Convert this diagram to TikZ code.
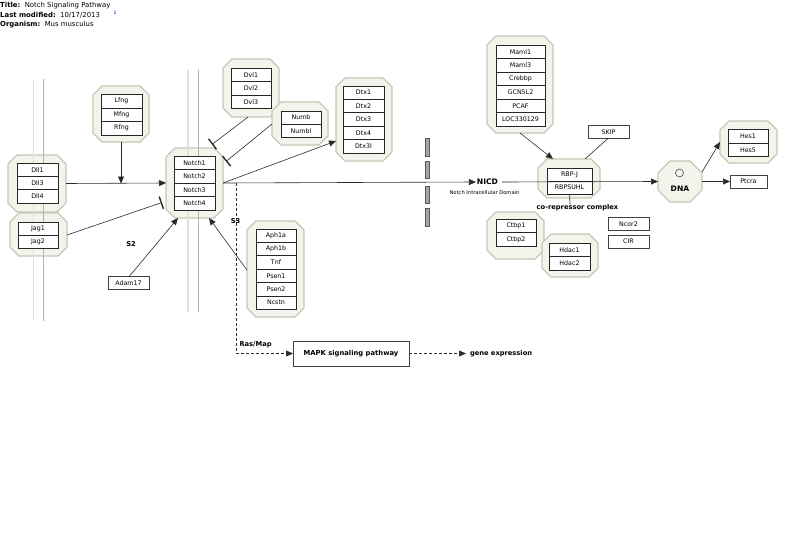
\documentclass[tikz,border=0pt]{standalone}
\usepackage{fontspec}
\setmainfont{DejaVu Sans}
\usetikzlibrary{arrows.meta,calc}
\definecolor{octfill}{HTML}{F4F4EC}
\definecolor{octline}{HTML}{C6C6B6}
\definecolor{lnk}{HTML}{2A2A2A}
\tikzset{
  grpnode/.style={rectangle, inner sep=0, outer sep=0},
  grpstyle/.style={fill=octfill, draw=octline, line width=1.2pt},
  gene/.style={rectangle, draw=black!85, fill=white, line width=0.7pt, inner sep=0, outer sep=0, minimum height=13.5pt},
  solo/.style={rectangle, draw=black!75, fill=white, line width=0.7pt, inner sep=0, outer sep=0},
  lbl/.style={inner sep=0, outer sep=0, font=\fontsize{6.7}{7}\selectfont\bfseries},
  arr/.style={draw=lnk, line width=0.6pt, -{Triangle[length=7pt,width=6pt]}},
  inh/.style={draw=lnk, line width=0.6pt, -{Bar[width=13pt,line width=1.4pt]}},
  plain/.style={draw=lnk, line width=0.6pt},
  dsh/.style={draw=lnk, line width=0.6pt, dashed, dash pattern=on 3pt off 2pt},
  memA/.style={draw=black!12, line width=1.8pt},
  memB/.style={draw=black!30, line width=0.9pt},
}
% group octagon: name, x1, y1, x2, y2, cut
\newcommand\octgrp[6]{%
  \node[grpnode, minimum width={#4-#2}, minimum height={#5-#3}] (#1) at ({(#2+#4)/2},{(#3+#5)/2}) {};
  \filldraw[grpstyle] ([xshift=#6]#1.north west) -- ([xshift=-#6]#1.north east) -- ([yshift=-#6]#1.north east)
    -- ([yshift=#6]#1.south east) -- ([xshift=-#6]#1.south east) -- ([xshift=#6]#1.south west)
    -- ([yshift=#6]#1.south west) -- ([yshift=-#6]#1.north west) -- cycle;}
% rows: x1, x2, ytop, row height, list
\newcommand\generows[5]{%
  \foreach \t [count=\i] in {#5}
    \node[gene, minimum width={#2-#1}, minimum height={#4}] (\t) at ({(#1+#2)/2},{#3+#4*(\i-0.5)}) {\t};}
\begin{document}
\begin{tikzpicture}[x=1pt,y=-1pt,font=\fontsize{6.3}{7}\selectfont]
\useasboundingbox (0,0) rectangle (800,546);

% header
\node[anchor=west, inner sep=0, font=\fontsize{6.9}{7}\selectfont] (t1) at (0,6) {\textbf{Title:}\ \ Notch Signaling Pathway};
\node[anchor=west, inner sep=0, font=\fontsize{6.9}{7}\selectfont] (t2) at (0,15.5) {\textbf{Last modified:}\ \ 10/17/2013};
\node[anchor=west, inner sep=0, font=\fontsize{6.9}{7}\selectfont] (t3) at (0,25) {\textbf{Organism:}\ \ Mus musculus};
\node[inner sep=0, text=blue!70!black, font=\fontsize{4.5}{5}\selectfont] (sup) at (115,13) {1};

% octagon groups
\octgrp{dll}{8}{155}{66}{212}{9}
\octgrp{jag}{10}{213}{67}{256}{9}
\octgrp{lfg}{93}{86}{149}{142}{9}
\octgrp{notch}{166}{148}{223}{218}{9}
\octgrp{dvl}{223}{59}{279}{117}{9}
\octgrp{numb}{272}{102}{328}{145}{9}
\octgrp{dtx}{336}{78}{392}{161}{9}
\octgrp{pse}{247}{221}{304}{317}{9}
\octgrp{maml}{487}{36}{553}{133}{9}
\octgrp{rbp}{538}{159}{600}{198}{9}
\octgrp{ctbp}{487}{212}{544}{259}{9}
\octgrp{hdac}{542}{234}{598}{277}{9}
\octgrp{hes}{720}{121}{777}{163}{9}
\octgrp{dna}{658}{161}{702}{202}{12}

% membranes
\draw[memA] (33.5,79) -- (33.5,321);
\draw[memB] (43,79) -- (43,321);
\draw[memA] (188,70) -- (188,312);
\draw[memB] (198,70) -- (198,312);

% gene rows
\generows{17}{58}{163}{13.4}{Dll1,Dll3,Dll4}
\generows{18}{58}{222}{13}{Jag1,Jag2}
\generows{101}{142}{94.5}{13.5}{Lfng,Mfng,Rfng}
\generows{174}{215}{156}{13.5}{Notch1,Notch2,Notch3,Notch4}
\generows{231}{271}{68}{13.6}{Dvl1,Dvl2,Dvl3}
\generows{281}{321}{111}{13.2}{Numb,Numbl}
\generows{343}{384}{86}{13.4}{Dtx1,Dtx2,Dtx3,Dtx4,Dtx3l}
\generows{256}{296}{229}{13.4}{Aph1a,Aph1b,Tnf,Psen1,Psen2,Ncstn}
\generows{496}{545}{45}{13.5}{Maml1,Maml3,Crebbp,GCN5L2,PCAF,LOC330129}
\generows{547}{592}{168}{13}{RBP-J,RBPSUHL}
\generows{496}{536}{219.5}{13.3}{Ctbp1,Ctbp2}
\generows{549}{590}{243}{13.5}{Hdac1,Hdac2}
\generows{728}{768}{129.5}{13.5}{Hes1,Hes5}

% DNA content
\node[circle, draw=black!70, line width=0.6pt, minimum size=8pt, inner sep=0] (dnac) at (679.5,173) {};
\node[lbl, font=\fontsize{7.6}{8}\selectfont\bfseries] (dnat) at (680,189) {DNA};

% single boxes
\node[solo, minimum width=41pt, minimum height=12.5pt] (adam) at (128.5,283) {Adam17};
\node[solo, minimum width=41pt, minimum height=12.5pt] (skip) at (608.5,131.8) {SKIP};
\node[solo, minimum width=41pt, minimum height=13.5pt] (ncor) at (628.5,224) {Ncor2};
\node[solo, minimum width=41pt, minimum height=13pt] (cir) at (628.5,241.5) {CIR};
\node[solo, minimum width=37pt, minimum height=13pt] (ptcra) at (748.5,181.5) {Ptcra};
\node[solo, minimum width=116pt, minimum height=25pt, font=\fontsize{6.8}{7}\selectfont\bfseries] (mapk) at (351,353.5) {MAPK signaling pathway};

% gray bars
\foreach \ya/\yb [count=\k] in {138/156,161/178,186/203,208/226}
  \filldraw[fill=black!35, draw=black!65, line width=0.5pt] (425,\ya) rectangle (429.5,\yb);

% labels
\node[lbl] (s2) at (131,244) {S2};
\node[lbl] (s3) at (235.5,221.5) {S3};
\node[lbl, font=\fontsize{7.6}{8}\selectfont\bfseries] (nicd) at (487.5,182) {NICD};
\node[inner sep=0, font=\fontsize{5.2}{6}\selectfont] (nicdt) at (484.5,193) {Notch Intracellular Domain};
\node[lbl] (corep) at (577.5,207.8) {co-repressor complex};
\node[lbl, anchor=west] (ras) at (239.5,345) {Ras/Map};
\node[lbl, anchor=west] (gexp) at (470,353.5) {gene expression};

% helper coordinates
\coordinate (jl) at (121,183.5);
\coordinate (d0) at (236,183);

% connectors
\draw[arr] (dll.east) -- (notch.west);
\draw[arr] (lfg.south) -- (jl);
\draw[inh] (jag.east |- Jag2.north) -- (162,202.5);
\draw[arr] ([xshift=0.5]adam.north) -- ([xshift=-16.5]notch.south);
\draw[arr] ([yshift=-1]pse.west) -- ([xshift=14.5]notch.south);
\draw[inh] ([xshift=-3]dvl.south) -- (212,144.5);
\draw[inh] ([yshift=-0.5]numb.west) -- (226,161.5);
\draw[arr] (notch.east) -- ([yshift=-21.5]dtx.west);
\draw[arr] (notch.east) -- ([xshift=-1]nicd.west);
\draw[arr] ([xshift=4]nicd.east) -- (dna.west);
\draw[arr] (maml.south) -- ([xshift=-16]rbp.north);
\draw[plain] (skip.south) -- ([xshift=16]rbp.north);
\draw[plain] (RBPSUHL.south) -- ([xshift=-7.5]corep.north);
\draw[arr] ([yshift=9.5]dna.east) -- (hes.west);
\draw[arr] (dna.east) -- (ptcra.west);
\draw[dsh, -{Triangle[length=7pt,width=6pt]}] (d0) |- (mapk.west);
\draw[dsh, -{Triangle[length=7pt,width=6pt]}] (mapk.east) -- ([xshift=-4]gexp.west);
\end{tikzpicture}
\end{document}
